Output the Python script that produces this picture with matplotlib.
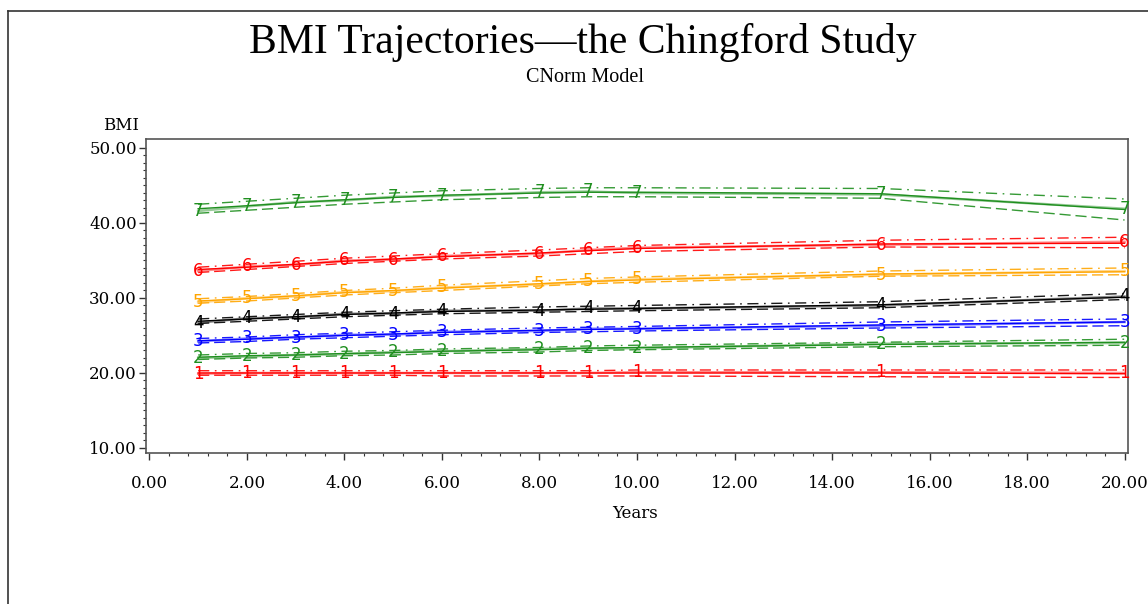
import matplotlib
matplotlib.use("Agg")
import matplotlib.pyplot as plt
from matplotlib.lines import Line2D
from matplotlib import font_manager

years = [1, 2, 3, 4, 5, 6, 8, 9, 10, 15, 20]
group_labels = ["1", "2", "3", "4", "5", "6", "7"]
group_colors = ["#ff0000", "#1f8f1f", "#0000ff", "#000000", "#ffa500", "#ff0000", "#1f8f1f"]

pred_bmi = [
    [20.0, 20.0, 20.0, 20.0, 20.0, 20.0, 20.0, 20.0, 20.0, 20.0, 19.9],
    [22.1, 22.3, 22.4, 22.6, 22.7, 22.9, 23.1, 23.3, 23.4, 23.8, 24.1],
    [24.3, 24.5, 24.8, 25.0, 25.2, 25.4, 25.7, 25.8, 25.9, 26.4, 26.8],
    [26.9, 27.2, 27.5, 27.8, 28.0, 28.2, 28.4, 28.5, 28.6, 29.1, 30.1],
    [29.6, 29.9, 30.3, 30.7, 31.0, 31.3, 31.9, 32.2, 32.4, 33.2, 33.5],
    [33.8, 34.1, 34.5, 34.9, 35.2, 35.5, 36.0, 36.3, 36.6, 37.2, 37.3],
    [41.9, 42.3, 42.7, 43.1, 43.4, 43.7, 44.0, 44.1, 44.1, 43.9, 41.8],
]
obs_bmi = [
    [19.9, 20.0, 20.0, 20.0, 20.0, 20.0, 20.0, 20.0, 20.1, 20.1, 20.0],
    [22.0, 22.2, 22.4, 22.5, 22.8, 22.9, 23.2, 23.3, 23.3, 23.9, 24.0],
    [24.2, 24.6, 24.7, 25.1, 25.1, 25.5, 25.6, 25.9, 25.9, 26.3, 26.8],
    [26.7, 27.3, 27.4, 27.9, 27.9, 28.3, 28.3, 28.6, 28.6, 29.0, 30.2],
    [29.4, 30.0, 30.2, 30.8, 30.9, 31.4, 31.8, 32.2, 32.5, 33.1, 33.6],
    [33.6, 34.2, 34.4, 35.0, 35.1, 35.6, 35.9, 36.4, 36.7, 37.1, 37.5],
    [41.6, 42.2, 42.8, 43.0, 43.5, 43.6, 44.1, 44.2, 44.0, 43.8, 41.9],
]
upper_ci = [
    [20.3, 20.3, 20.3, 20.3, 20.3, 20.3, 20.3, 20.3, 20.4, 20.4, 20.4],
    [22.4, 22.6, 22.7, 22.9, 23.0, 23.2, 23.4, 23.6, 23.7, 24.1, 24.5],
    [24.6, 24.8, 25.1, 25.3, 25.5, 25.7, 26.0, 26.1, 26.2, 26.8, 27.2],
    [27.2, 27.5, 27.8, 28.1, 28.3, 28.5, 28.8, 28.9, 29.0, 29.5, 30.6],
    [29.9, 30.2, 30.6, 31.0, 31.3, 31.7, 32.3, 32.6, 32.8, 33.6, 34.0],
    [34.1, 34.5, 34.9, 35.3, 35.6, 35.9, 36.4, 36.7, 37.0, 37.7, 38.1],
    [42.5, 42.9, 43.3, 43.7, 44.0, 44.3, 44.6, 44.7, 44.7, 44.6, 43.2],
]
lower_ci = [
    [19.7, 19.7, 19.7, 19.7, 19.7, 19.6, 19.6, 19.6, 19.6, 19.5, 19.4],
    [21.8, 22.0, 22.1, 22.3, 22.4, 22.6, 22.8, 23.0, 23.1, 23.5, 23.7],
    [24.0, 24.2, 24.5, 24.7, 24.9, 25.1, 25.4, 25.5, 25.6, 26.0, 26.3],
    [26.6, 26.9, 27.2, 27.5, 27.7, 27.9, 28.1, 28.2, 28.3, 28.7, 29.8],
    [29.3, 29.6, 30.0, 30.4, 30.7, 31.0, 31.6, 31.9, 32.1, 32.9, 33.1],
    [33.4, 33.8, 34.2, 34.6, 34.9, 35.2, 35.6, 35.9, 36.2, 36.8, 36.7],
    [41.3, 41.7, 42.1, 42.5, 42.8, 43.1, 43.4, 43.5, 43.5, 43.3, 40.4],
]

x_ticks = [0, 2, 4, 6, 8, 10, 12, 14, 16, 18, 20]
y_ticks = [10, 20, 30, 40, 50]

W, H = 1148, 604
fig = plt.figure(figsize=(W / 100, H / 100), dpi=100)
ax = fig.add_axes([146 / W, 1 - 453 / H, (1128 - 146) / W, (453 - 139) / H])

serif = ["Liberation Serif", "DejaVu Serif"]
tickfont = "DejaVu Serif"
installed = {f.name for f in font_manager.fontManager.ttflist}
markfont = "Liberation Sans Narrow" if "Liberation Sans Narrow" in installed else "DejaVu Sans"

for k in range(len(group_labels)):
    c = group_colors[k]
    ax.plot(years, upper_ci[k], color=c, lw=1.0, alpha=0.9, linestyle=(0, (8, 4, 1.2, 4)))
    ax.plot(years, lower_ci[k], color=c, lw=1.0, alpha=0.9, linestyle=(0, (8, 3.5)))
    ax.plot(years, obs_bmi[k], color=c, lw=1.8, alpha=0.45)
    ax.plot(years, pred_bmi[k], color=c, lw=1.0)
    for xi, yi in zip(years, obs_bmi[k]):
        ax.text(xi, yi, group_labels[k], color=c, fontsize=12, ha="center", va="center",
                family=markfont)

ax.set_xlim(-0.07, 20.07)
ax.set_ylim(9.33, 51.2)
ax.set_xticks(x_ticks)
ax.set_xticklabels([f"{v:.2f}" for v in x_ticks], family=tickfont, fontsize=12)
ax.set_yticks(y_ticks)
ax.set_yticklabels([f"{v:.2f}" for v in y_ticks], family=tickfont, fontsize=12)
ax.set_xticks([v / 10 * 4 for v in range(0, 51)], minor=True)
ax.set_yticks(list(range(10, 51)), minor=True)
ax.tick_params(axis="both", which="major", direction="out", length=5, width=1, color="#333333")
ax.tick_params(axis="both", which="minor", direction="out", length=2.5, width=0.8, color="#333333")
ax.tick_params(axis="y", which="major", pad=1.5)
ax.tick_params(axis="x", which="major", pad=11)
for s in ax.spines.values():
    s.set_color("#555555")
    s.set_linewidth(1.2)

fig.text(583 / W, 1 - 42 / H, "BMI Trajectories\u2014the Chingford Study", ha="center", va="center",
         family=serif, fontsize=30)
fig.text(585 / W, 1 - 78 / H, "CNorm Model", ha="center", va="center", family=serif, fontsize=14.5)
fig.text(121 / W, 1 - 125 / H, "BMI", ha="center", va="center", family=tickfont, fontsize=12)
fig.text(635 / W, 1 - 514 / H, "Years", ha="center", va="center", family=tickfont, fontsize=12)

# outer page border (left and top edges visible)
fig.add_artist(Line2D([8 / W, 8 / W], [1 - 11 / H, 0], transform=fig.transFigure, color="#333333", lw=1.2))
fig.add_artist(Line2D([8 / W, 1], [1 - 11 / H, 1 - 11 / H], transform=fig.transFigure, color="#333333", lw=1.2))

fig.savefig("out.png", dpi=100)
